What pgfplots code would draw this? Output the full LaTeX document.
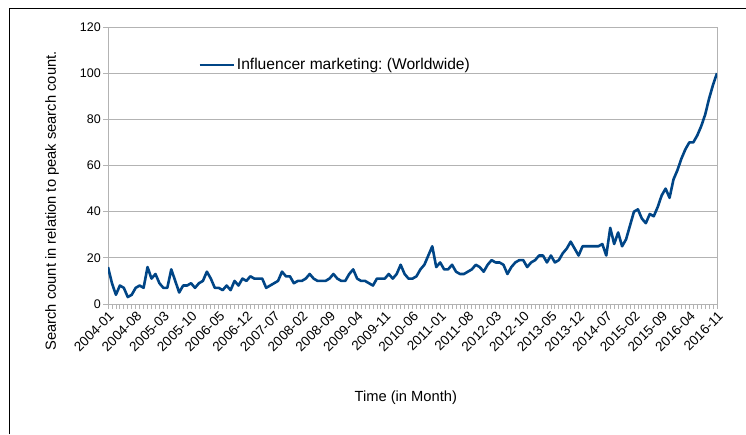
\documentclass[border=0pt]{standalone}
\usepackage{fontspec}
\setmainfont{Liberation Sans}
\usepackage{pgfplots}
\pgfplotsset{compat=1.18}
\usepackage{pgfplotstable}
\frenchspacing
\definecolor{lblue}{HTML}{004586}
\definecolor{gridgray}{HTML}{B3B3B3}
\pgfplotstableread{
m v
0 16
1 9
2 4
3 8
4 7
5 3
6 4
7 7
8 8
9 7
10 16
11 11
12 13
13 9
14 7
15 7
16 15
17 10
18 5
19 8
20 8
21 9
22 7
23 9
24 10
25 14
26 11
27 7
28 7
29 6
30 8
31 6
32 10
33 8
34 11
35 10
36 12
37 11
38 11
39 11
40 7
41 8
42 9
43 10
44 14
45 12
46 12
47 9
48 10
49 10
50 11
51 13
52 11
53 10
54 10
55 10
56 11
57 13
58 11
59 10
60 10
61 13
62 15
63 11
64 10
65 10
66 9
67 8
68 11
69 11
70 11
71 13
72 11
73 13
74 17
75 13
76 11
77 11
78 12
79 15
80 17
81 21
82 25
83 16
84 18
85 15
86 15
87 17
88 14
89 13
90 13
91 14
92 15
93 17
94 16
95 14
96 17
97 19
98 18
99 18
100 17
101 13
102 16
103 18
104 19
105 19
106 16
107 18
108 19
109 21
110 21
111 18
112 21
113 18
114 19
115 22
116 24
117 27
118 24
119 21
120 25
121 25
122 25
123 25
124 25
125 26
126 21
127 33
128 26
129 31
130 25
131 28
132 34
133 40
134 41
135 37
136 35
137 39
138 38
139 42
140 47
141 50
142 46
143 54
144 58
145 63
146 67
147 70
148 70
149 73
150 77
151 82
152 89
153 95
154 100
}\datatable
\begin{document}
\begin{tikzpicture}
\useasboundingbox (0pt,0pt) rectangle (746pt,434pt);
\draw[line width=1pt, black] (9.5pt,0pt) -- (9.5pt,425.5pt) -- (746pt,425.5pt);
\begin{axis}[
  at={(108pt,130pt)}, anchor=south west,
  scale only axis, width=609pt, height=277pt,
  xmin=0, xmax=154, ymin=0, ymax=120,
  ytick={0,20,...,120},
  xtick={0,7,...,154},
  xticklabels={2004-01,2004-08,2005-03,2005-10,2006-05,2006-12,2007-07,2008-02,2008-09,2009-04,2009-11,2010-06,2011-01,2011-08,2012-03,2012-10,2013-05,2013-12,2014-07,2015-02,2015-09,2016-04,2016-11},
  minor x tick num=6,
  tick align=outside,
  xtick pos=bottom, ytick pos=left,
  major tick length=5pt, minor tick length=5pt,
  tick style={gridgray, line width=0.8pt},
  ymajorgrids,
  grid style={gridgray, line width=0.8pt},
  axis line style={gridgray, line width=0.8pt},
  /pgf/number format/assume math mode=true,
  yticklabel style={font=\fontsize{12.5}{15}\selectfont, inner sep=2pt},
  xticklabel style={font=\fontsize{13.5}{15}\selectfont, rotate=45, anchor=north east, inner sep=1pt},
  xlabel={Time (in Month)},
  ylabel={Search count in relation to peak search count.},
  label style={font=\fontsize{14.7}{17}\selectfont},
  xlabel style={at={(axis description cs:0.489,-0.339)}, anchor=center},
  ylabel style={at={(axis description cs:-0.092,0.372)}, anchor=center},
  legend style={at={(axis description cs:0.148,0.863)}, anchor=west, draw=none, fill=none, inner sep=0pt, font=\fontsize{15.6}{18}\selectfont},
  legend cell align=left,
  legend image code/.code={\draw[#1] (0pt,0pt) -- (34pt,0pt);},
]
\addplot[lblue, line width=2.6pt, line join=round] table[x=m, y=v] {\datatable};
\addlegendentry{Influencer marketing: (Worldwide)}
\end{axis}
\end{tikzpicture}
\end{document}
